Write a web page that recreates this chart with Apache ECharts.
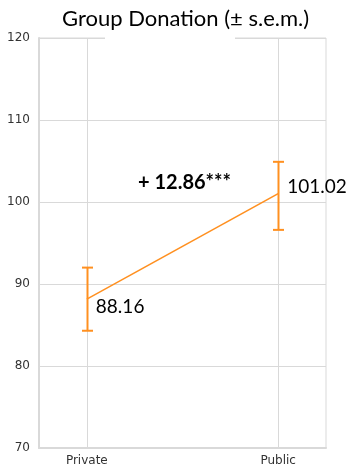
<!DOCTYPE html>
<html>
<head>
<meta charset="utf-8">
<style>
  html, body { margin: 0; padding: 0; background: #fff; }
  #chart { width: 348px; height: 468px; }
</style>
<script src="https://cdn.jsdelivr.net/npm/echarts@6/dist/echarts.min.js"></script>
</head>
<body>
<div id="chart"></div>
<script>
// Group donation means with standard-error bounds
const categories = ['Private', 'Public'];
const means = [88.16, 101.02];
const lowerBounds = [84.3, 96.6];
const upperBounds = [92.0, 104.9];
const yTicks = [70, 80, 90, 100, 110, 120];
const significance = '***';

const ORANGE = '#ff9020';
const GRID = '#d9d9d9';
const LABEL_FONT = 'Lato, "Noto Sans", sans-serif';

const diff = (means[1] - means[0]).toFixed(2);
const catIndex = categories.map((_, i) => i);
const yMin = yTicks[0];
const yMax = yTicks[yTicks.length - 1];

const labelOffsets = [[4, 8], [4, -7]];
const lineData = catIndex.map(i => ({
  value: [i, means[i]],
  label: { offset: labelOffsets[i] }
}));
const barData = catIndex.map(i => [i, lowerBounds[i], upperBounds[i]]);

const chart = echarts.init(document.getElementById('chart'), null, { renderer: 'canvas' });

chart.setOption({
  animation: false,
  backgroundColor: '#fff',
  title: [
    {
      text: 'Group Donation (± s.e.m.)',
      left: 57,
      top: 3,
      textStyle: { fontFamily: LABEL_FONT, fontSize: 22, fontWeight: 'normal', color: '#000' }
    },
    {
      text: '+ ' + diff + significance,
      left: 128,
      top: 165,
      padding: [8, 13, 9, 10],
      backgroundColor: '#fff',
      textStyle: { fontFamily: LABEL_FONT, fontSize: 20, fontWeight: 'bold', color: '#000' }
    }
  ],
  grid: {
    left: 39, right: 22, top: 38, bottom: 20,
    show: true, borderColor: GRID, borderWidth: 1
  },
  xAxis: {
    type: 'value',
    min: -0.25,
    max: 1.25,
    axisLine: { show: true, onZero: false, lineStyle: { color: GRID, width: 2 } },
    axisTick: { show: false },
    splitLine: { show: false },
    axisLabel: {
      customValues: catIndex,
      formatter: v => categories[Math.round(v)] || '',
      margin: 7,
      fontFamily: 'DejaVu Sans',
      fontSize: 12,
      color: '#333'
    }
  },
  yAxis: {
    type: 'value',
    min: yMin,
    max: yMax,
    interval: 10,
    axisLine: { show: true, onZero: false, lineStyle: { color: GRID, width: 2 } },
    axisTick: { show: false },
    splitLine: { show: true, lineStyle: { color: GRID, width: 1 } },
    axisLabel: { margin: 9, fontFamily: 'DejaVu Sans', fontSize: 12, color: '#333' }
  },
  graphic: [
    { type: 'rect', shape: { x: 105, y: 36, width: 130, height: 4 }, style: { fill: '#fff' }, z: 1 }
  ],
  series: [
    {
      // vertical grid lines through each category
      type: 'custom',
      data: catIndex,
      silent: true,
      z: 1,
      renderItem: (params, api) => {
        const top = api.coord([api.value(0), yMax]);
        const bottom = api.coord([api.value(0), yMin]);
        const cx = Math.round(top[0]) + 0.5;
        return {
          type: 'line',
          shape: { x1: cx, y1: top[1], x2: cx, y2: bottom[1] },
          style: { stroke: GRID, lineWidth: 1 }
        };
      }
    },
    {
      type: 'line',
      data: lineData,
      symbol: 'circle',
      symbolSize: 0,
      showSymbol: true,
      lineStyle: { color: ORANGE, width: 1.6 },
      itemStyle: { color: ORANGE },
      label: {
        show: true,
        position: 'right',
        formatter: p => p.value[1].toFixed(2),
        fontFamily: LABEL_FONT,
        fontSize: 19,
        color: '#000'
      },
      z: 3
    },
    {
      type: 'custom',
      data: barData,
      z: 4,
      renderItem: (params, api) => {
        const x = api.value(0);
        const lo = api.coord([x, api.value(1)]);
        const hi = api.coord([x, api.value(2)]);
        const cx = Math.round(lo[0]) + 0.5;
        const cap = 5.5;
        const style = { stroke: ORANGE, lineWidth: 2 };
        return {
          type: 'group',
          children: [
            { type: 'line', shape: { x1: cx, y1: lo[1], x2: cx, y2: hi[1] }, style },
            { type: 'line', shape: { x1: cx - cap, y1: hi[1], x2: cx + cap, y2: hi[1] }, style },
            { type: 'line', shape: { x1: cx - cap, y1: lo[1], x2: cx + cap, y2: lo[1] }, style }
          ]
        };
      }
    }
  ]
});
</script>
</body>
</html>
